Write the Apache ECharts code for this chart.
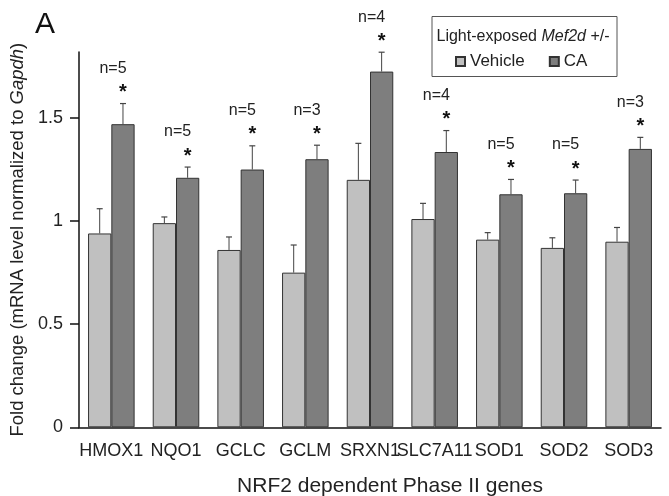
<!DOCTYPE html>
<html>
<head>
<meta charset="utf-8">
<script src="https://cdn.jsdelivr.net/npm/echarts@6/dist/echarts.min.js"></script>
<style>
  html, body { margin: 0; padding: 0; background: #fff; }
  #chart { width: 669px; height: 496px; }
</style>
</head>
<body>
<div id="chart"></div>
<script>
var genes = ["HMOX1", "NQO1", "GCLC", "GCLM", "SRXN1", "SLC7A11", "SOD1", "SOD2", "SOD3"];
var vehicle = [0.94, 0.99, 0.86, 0.75, 1.20, 1.01, 0.91, 0.87, 0.90];
var vehicleErr = [0.12, 0.03, 0.063, 0.134, 0.177, 0.076, 0.034, 0.049, 0.069];
var ca = [1.47, 1.21, 1.25, 1.30, 1.725, 1.335, 1.13, 1.135, 1.35];
var caErr = [0.10, 0.052, 0.115, 0.068, 0.094, 0.104, 0.072, 0.064, 0.056];
var nCounts = [5, 5, 5, 3, 4, 4, 5, 5, 3];
var yTicks = [0, 0.5, 1, 1.5];

var FONT = "'Liberation Sans', Arial, sans-serif";
var GAP = 0.28; // barCategoryGap

function errData(means, errs) {
  return means.map(function (m, i) { return [i, m, m + errs[i]]; });
}

// upper whisker with cap, shifted onto its bar
function errRender(side) {
  return function (params, api) {
    var i = api.value(0);
    var band = api.size([1, 0])[0];
    var barW = band * (1 - GAP) / 2;
    var base = api.coord([i, api.value(1)]);
    var top = api.coord([i, api.value(2)]);
    var x = base[0] + side * barW / 2;
    return {
      type: "group",
      children: [
        { type: "line", shape: { x1: x, y1: base[1], x2: x, y2: top[1] }, style: { stroke: "#444", lineWidth: 1 } },
        { type: "line", shape: { x1: x - 3, y1: top[1], x2: x + 3, y2: top[1] }, style: { stroke: "#444", lineWidth: 1.2 } }
      ]
    };
  };
}

var annData = ca.map(function (m, i) { return [i, m + caErr[i], nCounts[i]]; });

var chart = echarts.init(document.getElementById("chart"));
var option = {
  animation: false,
  textStyle: { fontFamily: FONT },
  grid: { left: 79, right: 8, top: 52, bottom: 68.7, outerBoundsMode: "none" },
  legend: {
    data: ["Vehicle", "CA"],
    left: 450,
    top: 48,
    icon: "rect",
    itemWidth: 9,
    itemHeight: 9,
    itemGap: 24,
    textStyle: { fontSize: 17, color: "#222", fontFamily: FONT }
  },
  xAxis: {
    type: "category",
    data: genes,
    name: "NRF2 dependent Phase II genes",
    nameLocation: "middle",
    nameGap: 48,
    nameTextStyle: { fontSize: 21, color: "#222", padding: [0, 0, 0, 40] },
    axisLine: { lineStyle: { color: "#111", width: 1.5 } },
    axisTick: { length: 5, lineStyle: { color: "#111", width: 1.5 } },
    axisLabel: { interval: 0, fontSize: 18, color: "#222", margin: 15 }
  },
  yAxis: {
    type: "value",
    min: 0,
    max: 1.82,
    name: "Fold change (mRNA level normalized to {i|Gapdh})",
    nameLocation: "middle",
    nameGap: 50,
    nameTextStyle: {
      fontSize: 18.5, color: "#222",
      rich: { i: { fontSize: 18.5, fontStyle: "italic", color: "#222" } }
    },
    splitLine: { show: false },
    axisLine: { show: true, lineStyle: { color: "#111", width: 1.5 } },
    axisTick: { show: true, length: 9, customValues: yTicks, lineStyle: { color: "#111", width: 1.5 } },
    axisLabel: { fontSize: 18, color: "#222", margin: 16, customValues: yTicks }
  },
  series: [
    {
      name: "Vehicle",
      type: "bar",
      data: vehicle,
      barGap: "0%",
      barCategoryGap: "28%",
      itemStyle: { color: "#c0c0c0", borderColor: "#333", borderWidth: 1 }
    },
    {
      name: "CA",
      type: "bar",
      data: ca,
      barGap: "0%",
      barCategoryGap: "28%",
      itemStyle: { color: "#7e7e7e", borderColor: "#333", borderWidth: 1 }
    },
    {
      type: "custom",
      renderItem: errRender(-1),
      data: errData(vehicle, vehicleErr),
      clip: false,
      z: 3
    },
    {
      type: "custom",
      renderItem: errRender(1),
      data: errData(ca, caErr),
      clip: false,
      z: 3
    },
    {
      type: "custom",
      clip: false,
      z: 4,
      data: annData,
      renderItem: function (params, api) {
        var i = api.value(0);
        var band = api.size([1, 0])[0];
        var barW = band * (1 - GAP) / 2;
        var p = api.coord([i, api.value(1)]);
        var x = p[0] + barW / 2;
        return {
          type: "group",
          children: [
            {
              type: "text",
              style: {
                text: "*", x: x, y: p[1] - 1,
                textAlign: "center", textVerticalAlign: "bottom",
                font: "bold 20px " + FONT, fill: "#111"
              }
            },
            {
              type: "text",
              style: {
                text: "n=" + api.value(2), x: x - 10, y: p[1] - 27,
                textAlign: "center", textVerticalAlign: "bottom",
                font: "16px " + FONT, fill: "#222"
              }
            }
          ]
        };
      }
    }
  ],
  graphic: [
    {
      type: "text",
      left: 35,
      top: 10,
      style: { text: "A", font: "30px " + FONT, fill: "#111" }
    },
    {
      type: "rect",
      z: -1,
      shape: { x: 432, y: 16.5, width: 185, height: 60 },
      style: { fill: "#fff", stroke: "#555", lineWidth: 1 }
    },
    {
      type: "text",
      x: 523,
      y: 37,
      style: {
        text: "Light-exposed {i|Mef2d} +/-",
        textAlign: "center",
        textVerticalAlign: "middle",
        fontSize: 16,
        fontFamily: FONT,
        fill: "#222",
        rich: { i: { fontSize: 16, fontStyle: "italic", fontFamily: FONT, fill: "#222" } }
      }
    }
  ]
};
chart.setOption(option);
</script>
</body>
</html>
